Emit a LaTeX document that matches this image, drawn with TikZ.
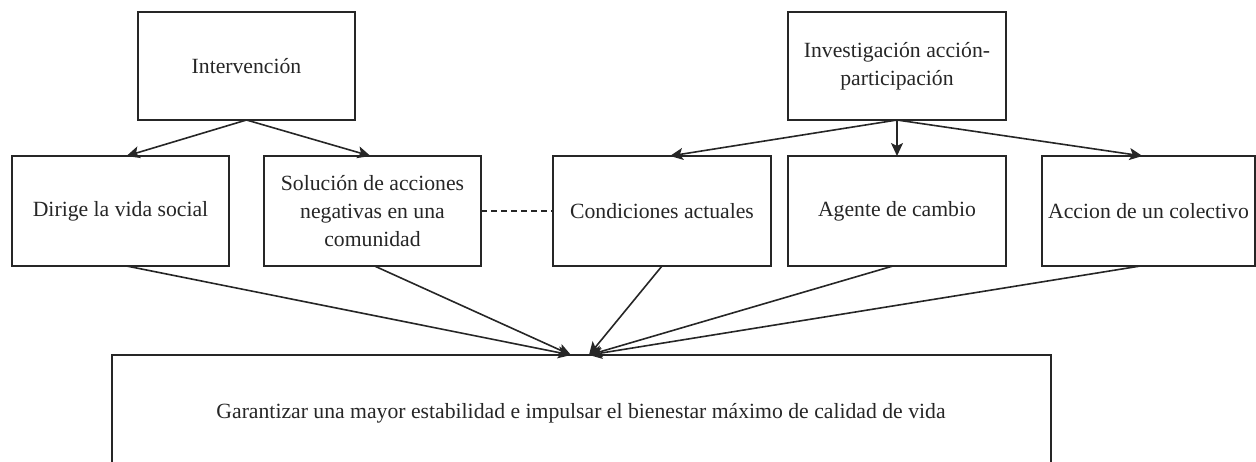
\documentclass[tikz,border=0pt]{standalone}
\usepackage{fontspec}
\setmainfont{Liberation Serif}
\usetikzlibrary{arrows.meta,calc}
\begin{document}
\begin{tikzpicture}[x=1pt,y=-1pt,
  box/.style={draw=black!85,line width=1.7pt,inner sep=0pt,outer sep=0pt,align=center,
    font=\fontsize{21.7}{28}\selectfont,text=black!85},
  arr/.style={line width=1.6pt,draw=black!85,-{Stealth[length=13pt,width=12pt,inset=3pt]}},
  link/.style={line width=1.6pt,draw=black!85}]
\useasboundingbox (0,0) rectangle (1256,462);
\node[box,minimum width=217pt,minimum height=108pt] (int) at (246.5,66) {Intervención};
\node[box,minimum width=218pt,minimum height=108pt] (inv) at (897,66) {Investigación acción-\\participación};
\node[box,minimum width=217pt,minimum height=110pt] (dir) at (120.5,211) {Dirige la vida social};
\node[box,minimum width=217pt,minimum height=110pt] (sol) at (372.5,211) {Solución de acciones\\negativas en una\\comunidad};
\node[box,minimum width=218pt,minimum height=110pt] (con) at (662,211) {Condiciones actuales};
\node[box,minimum width=218pt,minimum height=110pt] (age) at (897,211) {Agente de cambio};
\node[box,minimum width=213pt,minimum height=110pt] (acc) at (1148.5,211) {Accion de un colectivo};
\node[box,minimum width=939pt,minimum height=110pt] (bot) at (581.5,410) {};
\node[font=\fontsize{21.7}{28}\selectfont,text=black!85,inner sep=0pt] (bottxt) at (581,413) {Garantizar una mayor estabilidad e impulsar el bienestar máximo de calidad de vida};
\coordinate (cl) at ($(bot.north west)+(459,0)$);
\coordinate (cr) at ($(bot.north west)+(477,0)$);
\draw[arr] (int.south) -- ($(dir.north)+(6,0)$);
\draw[arr] (int.south) -- ($(sol.north)+(-2,0)$);
\draw[arr] (inv.south) -- ($(con.north)+(8,0)$);
\draw[arr] (inv.south) -- (age.north);
\draw[arr] (inv.south) -- ($(acc.north)+(-6,0)$);
\draw[arr] ($(dir.south)+(6,0)$) -- (cl);
\draw[arr] ($(sol.south)+(2,0)$) -- (cl);
\draw[arr] (con.south) -- (cr);
\draw[arr] ($(age.south)+(-4,0)$) -- (cr);
\draw[arr] ($(acc.south)+(-8,0)$) -- (cr);
\draw[link,dash pattern=on 6pt off 4pt] (sol.east) -- (con.west);
\end{tikzpicture}
\end{document}
